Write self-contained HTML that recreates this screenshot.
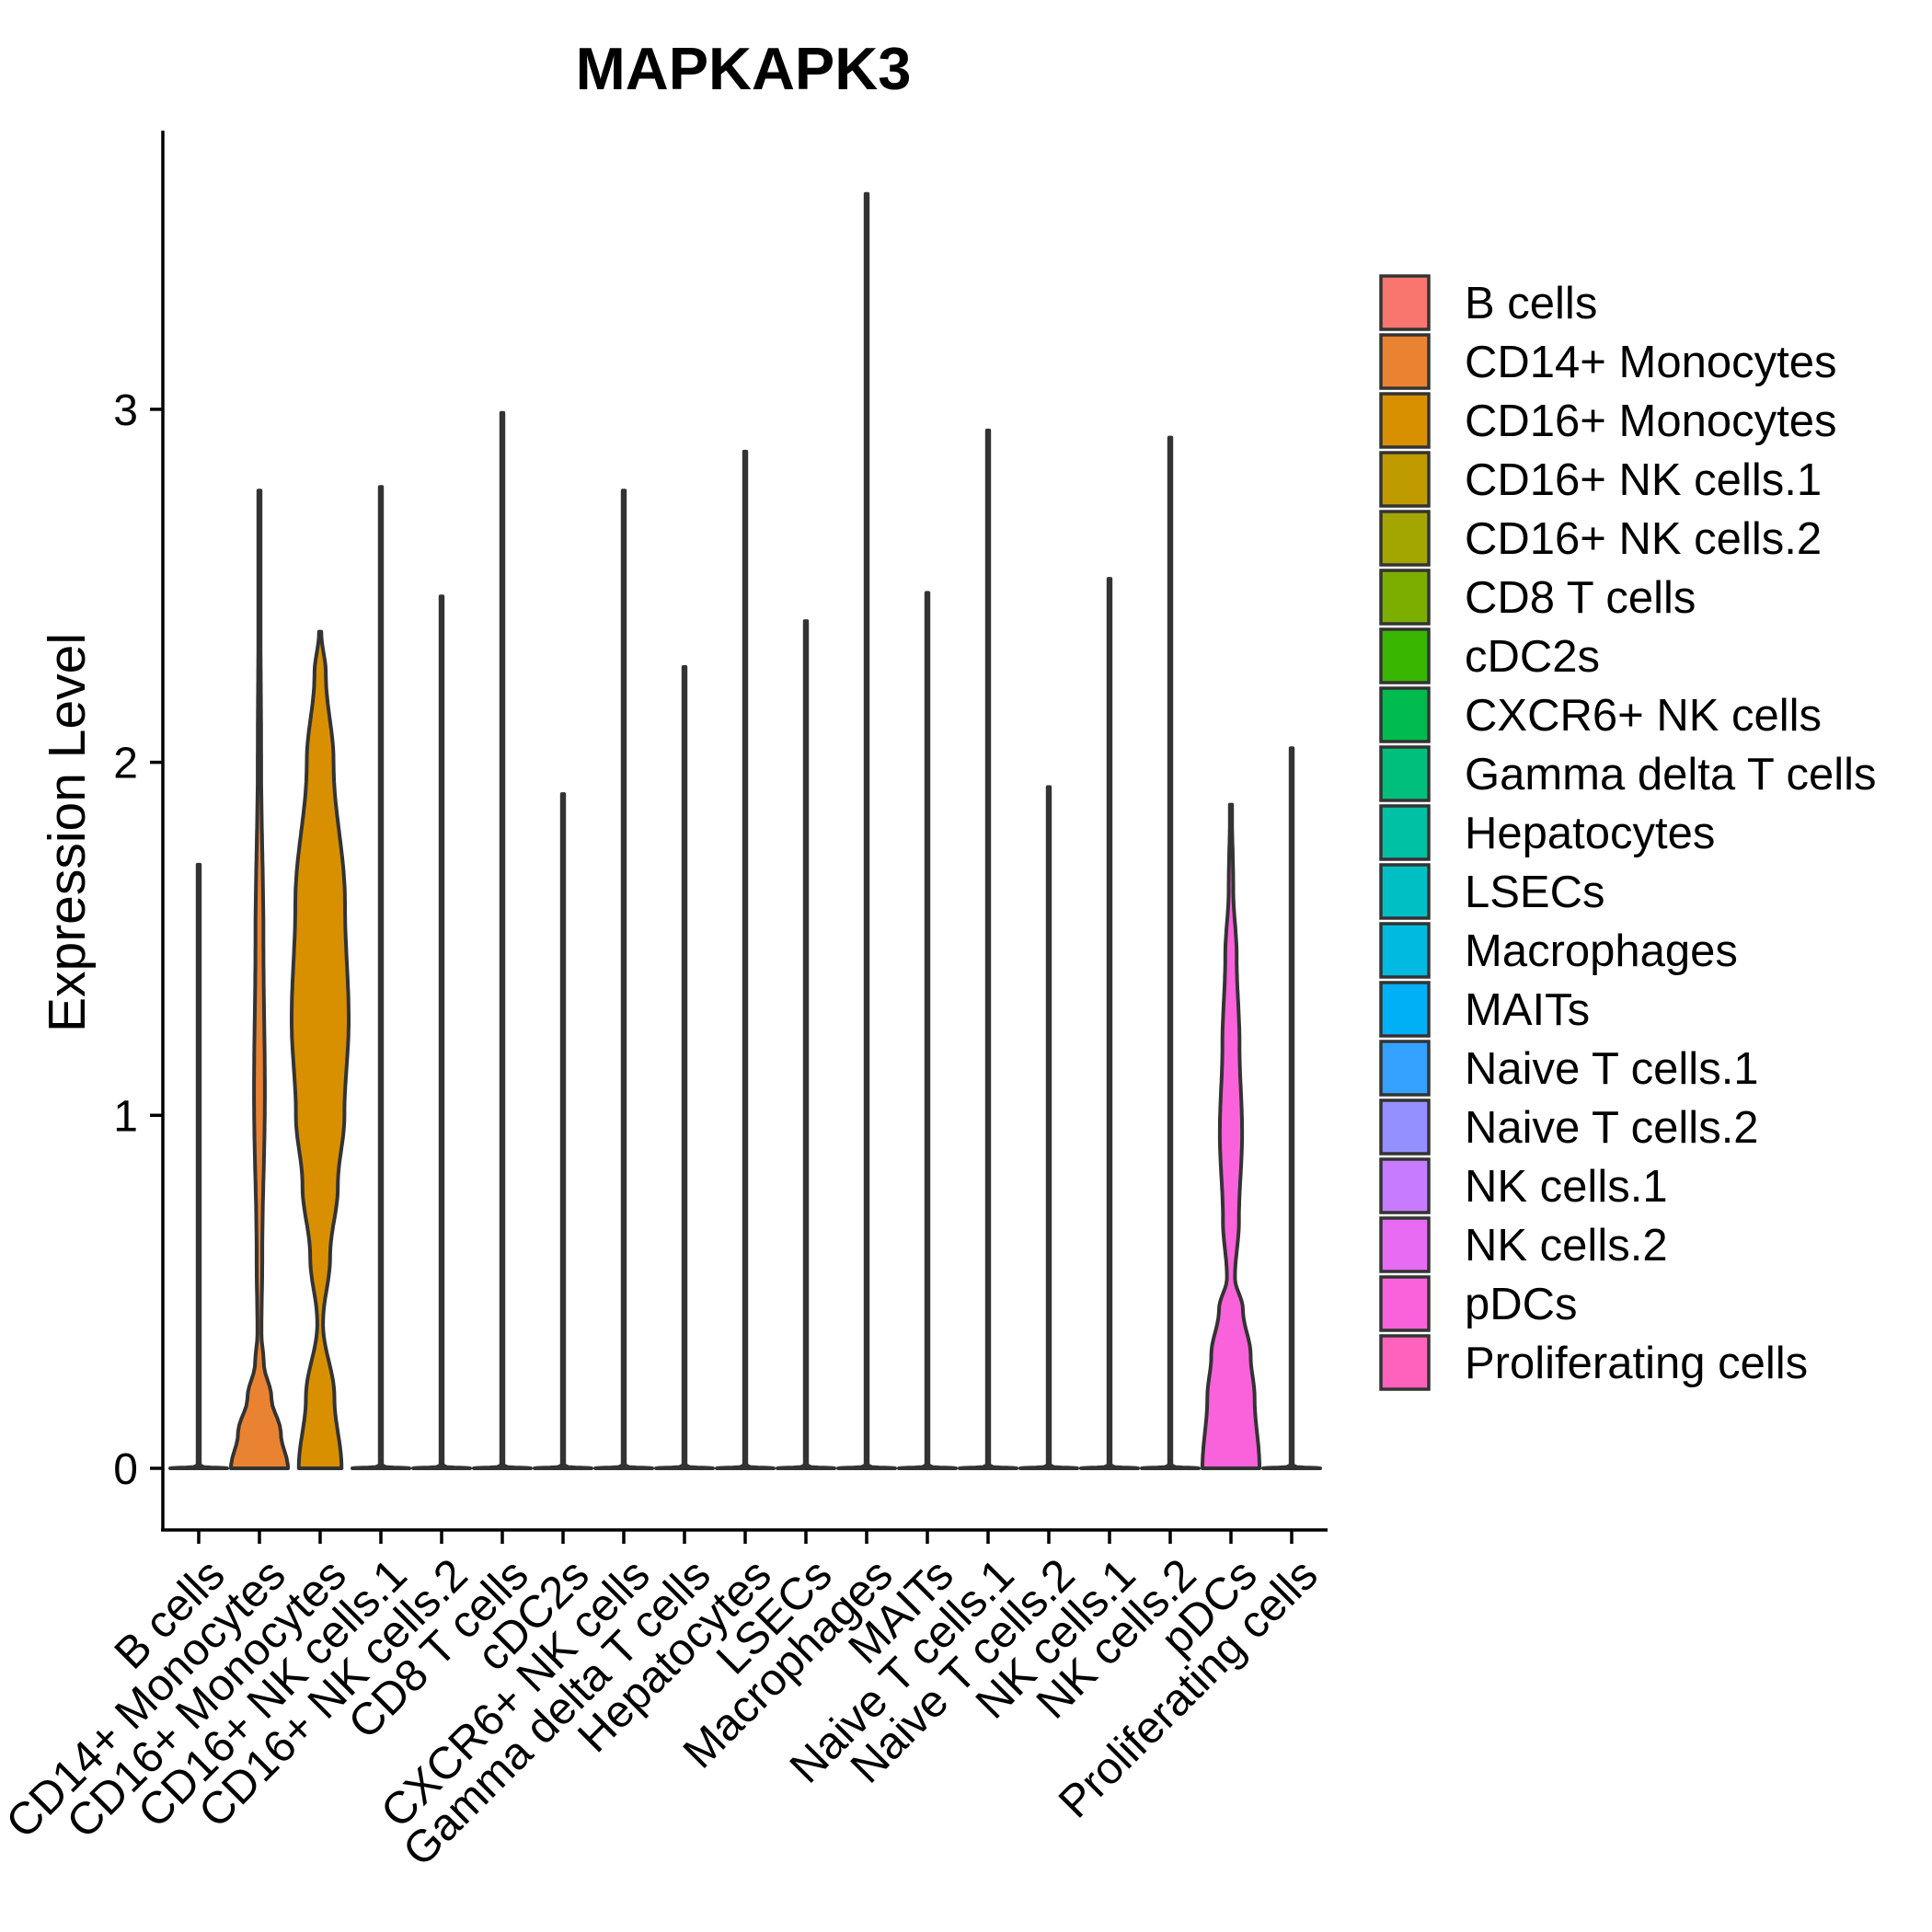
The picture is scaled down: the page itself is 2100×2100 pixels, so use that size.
<!DOCTYPE html>
<html><head><meta charset="utf-8"><style>
html,body{margin:0;padding:0;background:#fff;}
svg{display:block;font-family:"Liberation Sans",Arial,sans-serif;}
</style></head><body>
<svg id="chart" width="2100" height="2100" viewBox="0 0 2100 2100" xmlns="http://www.w3.org/2000/svg">
<text x="808" y="97" text-anchor="middle" font-size="65" font-weight="bold">MAPKAPK3</text>
<text transform="translate(92,905) rotate(-90)" text-anchor="middle" font-size="57">Expression Level</text>
<g id="plot"></g>
<g id="legend"></g>
</svg>
<script>
const categories = ["B cells","CD14+ Monocytes","CD16+ Monocytes","CD16+ NK cells.1","CD16+ NK cells.2","CD8 T cells","cDC2s","CXCR6+ NK cells","Gamma delta T cells","Hepatocytes","LSECs","Macrophages","MAITs","Naive T cells.1","Naive T cells.2","NK cells.1","NK cells.2","pDCs","Proliferating cells"];
const colors = ["#F8766D","#EA8331","#D89000","#C09B00","#A3A500","#7CAE00","#39B600","#00BB4E","#00BF7D","#00C1A3","#00BFC4","#00BAE0","#00B0F6","#35A2FF","#9590FF","#C77CFF","#E76BF3","#FA62DB","#FF62BC"];
const maxValues = [1.71,2.77,2.37,2.78,2.47,2.99,1.91,2.77,2.27,2.88,2.40,3.61,2.48,2.94,1.93,2.52,2.92,1.88,2.04];
// density profiles: [value, relative half-width]
const profCD14 = [[0,1.0],[0.1,0.75],[0.2,0.42],[0.3,0.15],[0.38,0.07],[0.6,0.1],[1.06,0.19],[1.5,0.14],[2.0,0.06],[2.5,0.03],[2.77,0.02]];
const profCD16Mono = [[0,0.75],[0.2,0.5],[0.41,0.1],[0.6,0.35],[0.8,0.62],[1.0,0.85],[1.27,1.0],[1.6,0.87],[2.0,0.47],[2.25,0.2],[2.37,0.04]];
const profPDC = [[0,1.0],[0.2,0.83],[0.32,0.69],[0.45,0.42],[0.54,0.14],[0.7,0.28],[0.95,0.39],[1.2,0.3],[1.45,0.2],[1.64,0.08],[1.88,0.03]];
const yTicks = [0,1,2,3];

const X0 = 216, DX = 66.0, Y0 = 1596, YU = 383.7, HW = 31;
const xs = i => X0 + i*DX;
const ys = v => Y0 - v*YU;
const NS = "http://www.w3.org/2000/svg";
const plot = document.getElementById('plot');
function mk(tag, attrs, parent){const e=document.createElementNS(NS,tag);for(const k in attrs)e.setAttribute(k,attrs[k]);parent.appendChild(e);return e;}

function thinProfile(mx){return [[0,1.0],[0.004,0.15],[0.01,0.03],[mx,0.02]];}
function profileFor(i){
  if(i===1) return profCD14;
  if(i===2) return profCD16Mono;
  if(i===17) return profPDC;
  return thinProfile(maxValues[i]);
}
function interp(p, v){
  for(let k=0;k<p.length-1;k++){
    if(v>=p[k][0] && v<=p[k+1][0]){
      const t=(v-p[k][0])/(p[k+1][0]-p[k][0]);
      const s=(1-Math.cos(Math.PI*t))/2;
      return p[k][1]+(p[k+1][1]-p[k][1])*s;
    }
  }
  return p[p.length-1][1];
}
categories.forEach((c,i)=>{
  const p = profileFor(i);
  const mx = p[p.length-1][0];
  const cx = xs(i);
  const vals = [];
  for(let k=0;k<=20;k++) vals.push(0.012*k/20);
  for(let k=1;k<=150;k++) vals.push(0.012+(mx-0.012)*k/150);
  const right=[], left=[];
  vals.forEach(v=>{
    const w = Math.max(interp(p,v)*HW, 1.2);
    right.push([cx+w, ys(v)]);
    left.push([cx-w, ys(v)]);
  });
  let d = 'M'+left[0][0].toFixed(1)+','+left[0][1].toFixed(1);
  right.forEach(q=>{d+=' L'+q[0].toFixed(1)+','+q[1].toFixed(1);});
  for(let k=left.length-1;k>=0;k--){d+=' L'+left[k][0].toFixed(1)+','+left[k][1].toFixed(1);}
  d+=' Z';
  const path = mk('path',{d:d,fill:colors[i],stroke:'#333333','stroke-width':4,'stroke-linejoin':'round'},plot);
  
  
});

// axes
const yAxis = mk('line',{x1:177,y1:142,x2:177,y2:1664,stroke:'#000','stroke-width':3.5},plot);


const xAxis = mk('line',{x1:175,y1:1663,x2:1443,y2:1663,stroke:'#000','stroke-width':3.5},plot);


yTicks.forEach(t=>{
  const l = mk('line',{x1:163,y1:ys(t),x2:177,y2:ys(t),stroke:'#000','stroke-width':3.5},plot);
  
  
  const tx = mk('text',{x:150,y:ys(t)+17,'text-anchor':'end','font-size':48},plot);
  tx.textContent = t;
  
  
});
categories.forEach((c,i)=>{
  const x = xs(i);
  const l = mk('line',{x1:x,y1:1663,x2:x,y2:1678,stroke:'#000','stroke-width':3.5},plot);
  
  
  const tx = mk('text',{x:x+6,y:1690,'text-anchor':'end','font-size':49,dy:'0.72em',transform:'rotate(-45 '+(x+6)+' 1690)'},plot);
  tx.textContent = c;
  
  
});

// legend
const legend = document.getElementById('legend');
categories.forEach((c,i)=>{
  const top = 298 + 64*i;
  const r = mk('rect',{x:1501,y:top+2,width:52,height:58,fill:colors[i],stroke:'#333333','stroke-width':3.5},legend);
  
  
  const t = mk('text',{x:1592,y:top+48,'font-size':49},legend);
  t.textContent = c;
  
  
});
</script>
</body></html>
